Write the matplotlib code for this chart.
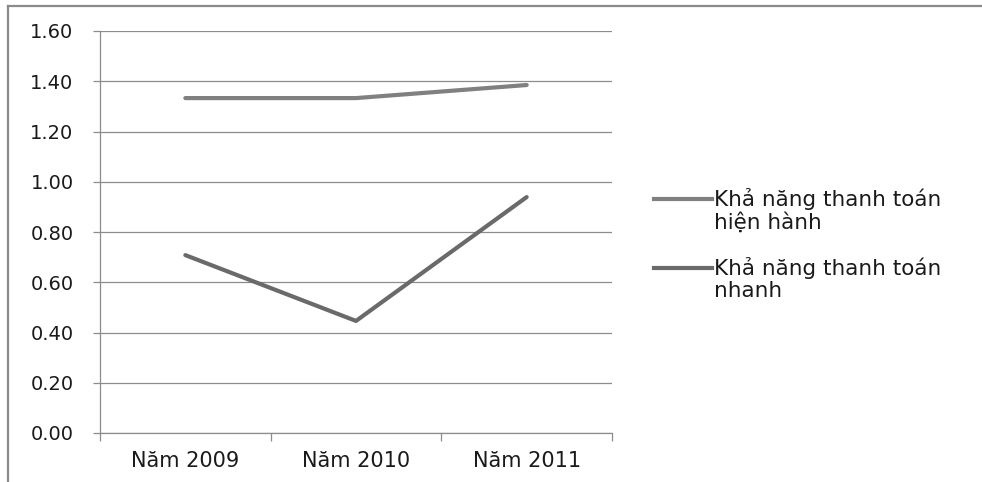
import matplotlib
matplotlib.use("Agg")
import matplotlib.pyplot as plt
from matplotlib.lines import Line2D

plt.rcParams['font.family'] = ['DejaVu Sans']

categories = ["Năm 2009", "Năm 2010", "Năm 2011"]
hien_hanh = [1.333, 1.333, 1.385]
nhanh = [0.708, 0.446, 0.939]
series_labels = ["Khả năng thanh toán\nhiện hành", "Khả năng thanh toán\nnhanh"]
y_ticks = [0.0, 0.2, 0.4, 0.6, 0.8, 1.0, 1.2, 1.4, 1.6]

W, H = 982, 482
fig = plt.figure(figsize=(W / 100, H / 100), dpi=100)
fig.patch.set_facecolor("white")

ax = fig.add_axes([100 / W, (H - 433) / H, 512 / W, 402 / H])

grid_c = "#8c8c8c"
colors = ["#808080", "#6a6a6a"]
x = list(range(len(categories)))

ax.plot(x, hien_hanh, color=colors[0], lw=3.0, solid_capstyle="round", zorder=3)
ax.plot(x, nhanh, color=colors[1], lw=3.0, solid_capstyle="round", zorder=3)

ax.set_xlim(-0.5, len(categories) - 0.5)
ax.set_ylim(0, 1.6)
ax.set_yticks(y_ticks)
ax.set_yticklabels([f"{v:.2f}" for v in y_ticks])
ax.yaxis.grid(True, color=grid_c, lw=0.9)
ax.set_axisbelow(True)

# category labels between boundary tick marks
ax.set_xticks([i - 0.5 for i in range(len(categories) + 1)])
ax.set_xticklabels([])
ax.set_xticks(x, minor=True)
ax.set_xticklabels(categories, minor=True)
ax.tick_params(axis="x", which="major", length=6, width=0.9, color=grid_c, direction="out")
ax.tick_params(axis="x", which="minor", length=0, pad=13, labelsize=15, labelcolor="#1a1a1a")
ax.tick_params(axis="y", length=5, width=0.9, color=grid_c, pad=14, labelsize=14, labelcolor="#1a1a1a")

for s in ["top", "right"]:
    ax.spines[s].set_visible(False)
for s in ["left", "bottom"]:
    ax.spines[s].set_color(grid_c)
    ax.spines[s].set_linewidth(0.9)

# legend drawn at the right side
leg_y = [199, 268]
for i, (lab, c) in enumerate(zip(series_labels, colors)):
    yy = 1 - leg_y[i] / H
    fig.add_artist(Line2D([654 / W, 712 / W], [yy, yy], transform=fig.transFigure,
                          color=c, lw=3.0))
    fig.text(714 / W, yy + 11 / H, lab, ha="left", va="top", fontsize=15.5,
             color="#1a1a1a", linespacing=1.15)

# outer frame
frame_c = "#8a8a8a"
fig.add_artist(Line2D([8 / W, 1.0], [1 - 6 / H, 1 - 6 / H], transform=fig.transFigure,
                      color=frame_c, lw=1.6))
fig.add_artist(Line2D([8 / W, 8 / W], [0, 1 - 6 / H], transform=fig.transFigure,
                      color=frame_c, lw=1.6))

fig.savefig("out.png", dpi=100)
